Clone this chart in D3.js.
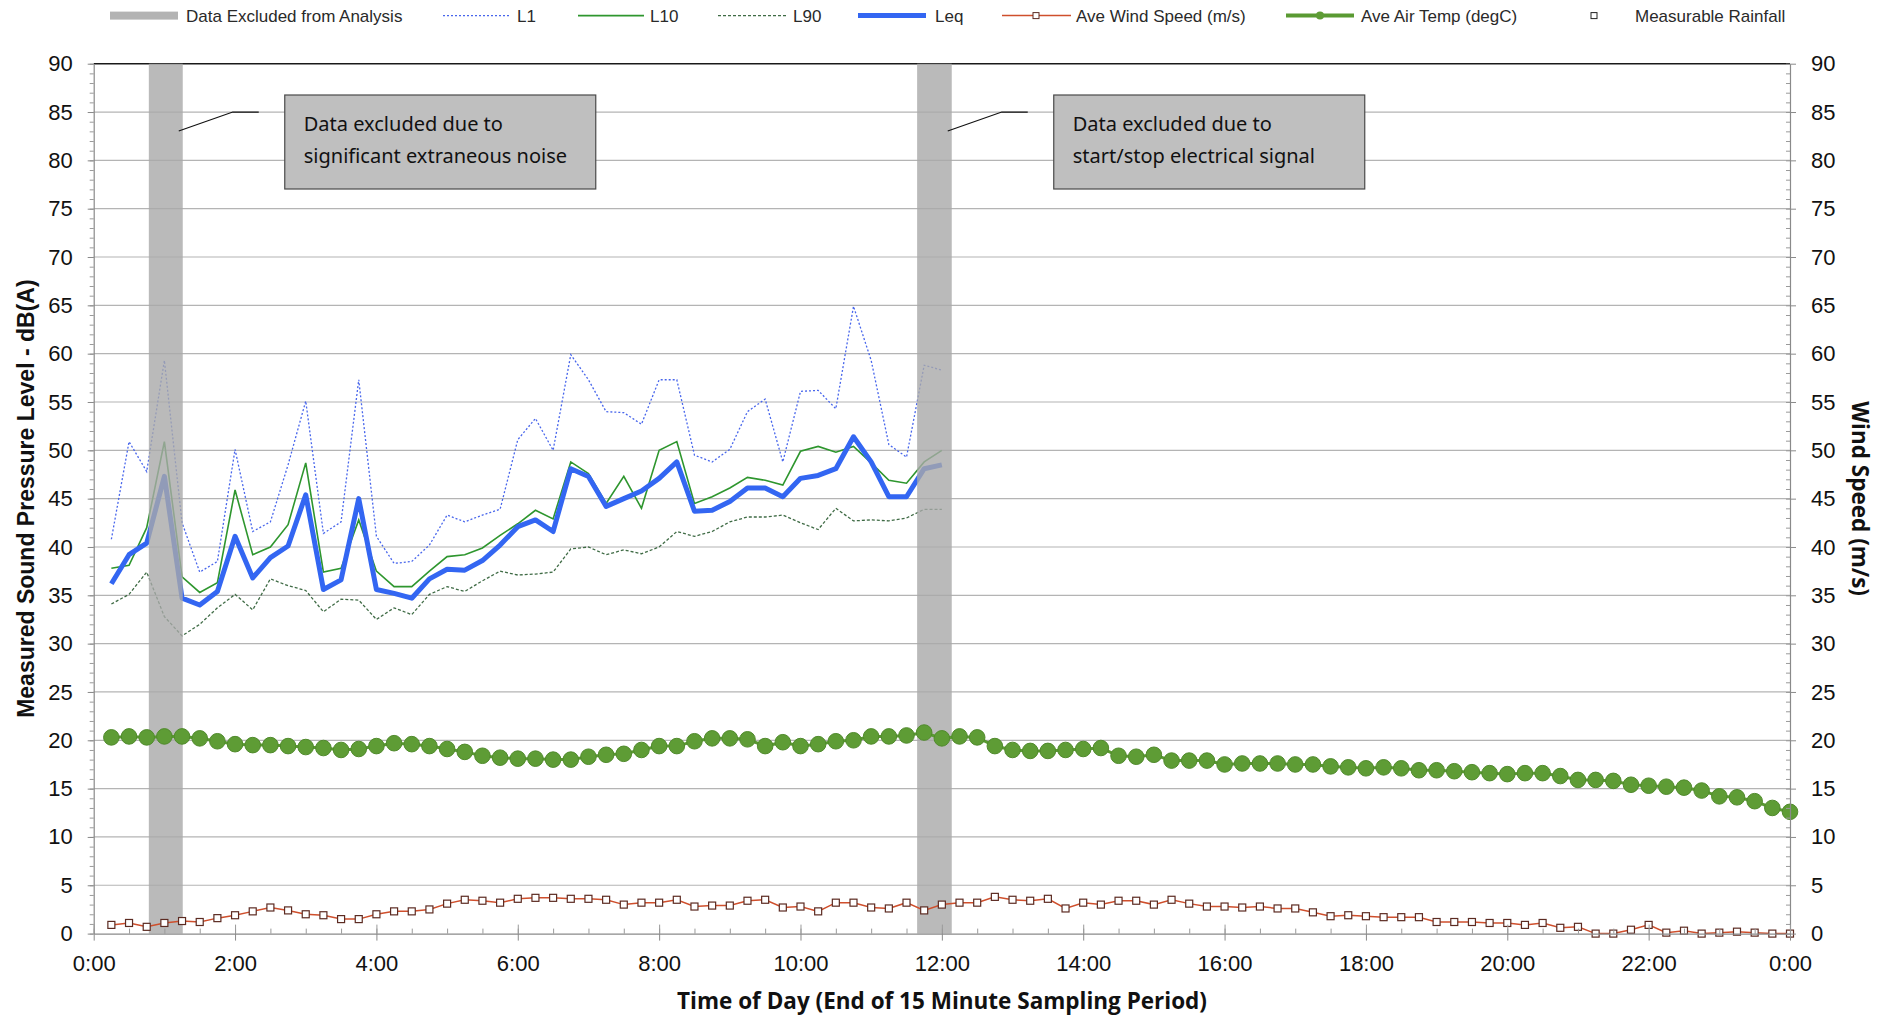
<!DOCTYPE html>
<html lang="en">
<head>
<meta charset="UTF-8">
<title>Noise Monitoring - 24 hour</title>
<script src="https://d3js.org/d3.v7.min.js"></script>
<style>
    body { margin: 0; background: #fff; }
    svg { display: block; }
</style>
</head>
<body>
<div id="chart"></div>
<script>
    // values at the end of each 15 minute period, first one is 0:15
    var periodMinutes = 15;

    // noise logger, 0:15 .. 12:00
    var L1 = [40.8, 50.9, 47.8, 59.3, 42.5, 37.4, 38.5, 50.1, 41.6, 42.6, 48.5, 55.1,
              41.4, 42.6, 57.3, 41.1, 38.3, 38.5, 40.2, 43.3, 42.6, 43.3, 43.9, 51.1,
              53.3, 50.0, 59.9, 57.3, 54.0, 53.9, 52.7, 57.3, 57.3, 49.5, 48.8, 50.1,
              54.0, 55.3, 48.8, 56.1, 56.2, 54.3, 64.9, 59.3, 50.6, 49.3, 58.8, 58.3];
    var L10 = [37.8, 38.1, 42.0, 50.9, 36.9, 35.3, 36.3, 45.9, 39.2, 40.0, 42.3, 48.7,
               37.4, 37.8, 42.8, 37.5, 35.9, 35.9, 37.5, 39.0, 39.2, 39.9, 41.2, 42.4,
               43.8, 42.9, 48.8, 47.6, 44.5, 47.3, 44.0, 50.0, 50.9, 44.5, 45.2, 46.1,
               47.2, 46.9, 46.4, 49.9, 50.4, 49.8, 50.4, 48.7, 46.9, 46.6, 48.8, 50.0];
    var L90 = [34.1, 35.1, 37.4, 32.8, 30.8, 32.0, 33.7, 35.1, 33.5, 36.7, 36.0, 35.5,
               33.3, 34.6, 34.5, 32.5, 33.7, 33.0, 35.1, 35.9, 35.4, 36.5, 37.5, 37.1,
               37.2, 37.4, 39.8, 40.0, 39.2, 39.7, 39.3, 40.0, 41.6, 41.1, 41.6, 42.6,
               43.1, 43.1, 43.3, 42.5, 41.8, 44.0, 42.7, 42.8, 42.7, 43.0, 43.9, 43.9];
    var Leq = [36.2, 39.2, 40.4, 47.3, 34.7, 34.0, 35.4, 41.1, 36.8, 38.9, 40.1, 45.4,
               35.6, 36.6, 45.0, 35.6, 35.2, 34.7, 36.7, 37.7, 37.6, 38.6, 40.2, 42.1,
               42.8, 41.6, 48.1, 47.3, 44.2, 45.0, 45.8, 47.1, 48.8, 43.7, 43.8, 44.7,
               46.1, 46.1, 45.2, 47.1, 47.4, 48.1, 51.4, 48.8, 45.2, 45.2, 48.1, 48.5];

    // weather station, 0:15 .. 24:00
    var windSpeed = [0.9, 1.1, 0.7, 1.1, 1.3, 1.2, 1.6, 1.9, 2.3, 2.7, 2.4, 2.0,
                     1.9, 1.5, 1.5, 2.0, 2.3, 2.3, 2.5, 3.1, 3.5, 3.4, 3.2, 3.6,
                     3.7, 3.7, 3.6, 3.6, 3.5, 3.0, 3.2, 3.2, 3.5, 2.8, 2.9, 2.9,
                     3.4, 3.5, 2.7, 2.8, 2.3, 3.2, 3.2, 2.7, 2.6, 3.2, 2.4, 3.0,
                     3.2, 3.2, 3.8, 3.5, 3.4, 3.6, 2.6, 3.2, 3.0, 3.4, 3.4, 3.0,
                     3.5, 3.1, 2.8, 2.8, 2.7, 2.8, 2.6, 2.6, 2.2, 1.8, 1.9, 1.8,
                     1.7, 1.7, 1.7, 1.2, 1.2, 1.2, 1.1, 1.1, 0.9, 1.1, 0.6, 0.7,
                     0.0, 0.0, 0.4, 0.9, 0.1, 0.3, 0.0, 0.1, 0.2, 0.1, 0.0, 0.0];
    var airTemp = [20.3, 20.4, 20.3, 20.4, 20.4, 20.2, 19.9, 19.6, 19.5, 19.5, 19.4, 19.3,
                   19.2, 19.0, 19.1, 19.4, 19.7, 19.6, 19.4, 19.1, 18.8, 18.4, 18.2, 18.1,
                   18.1, 18.0, 18.0, 18.3, 18.5, 18.6, 19.0, 19.4, 19.4, 19.9, 20.2, 20.2,
                   20.1, 19.4, 19.8, 19.4, 19.6, 19.9, 20.0, 20.4, 20.4, 20.5, 20.8, 20.2,
                   20.4, 20.3, 19.4, 19.0, 18.9, 18.9, 19.0, 19.1, 19.2, 18.4, 18.3, 18.5,
                   17.9, 17.9, 17.9, 17.5, 17.6, 17.6, 17.6, 17.5, 17.5, 17.3, 17.2, 17.1,
                   17.2, 17.1, 16.9, 16.9, 16.8, 16.7, 16.6, 16.5, 16.6, 16.6, 16.3, 15.9,
                   15.9, 15.8, 15.4, 15.3, 15.2, 15.1, 14.8, 14.2, 14.1, 13.7, 13.0, 12.6];
    var rainfall = [];   // no measurable rainfall

    // excluded periods (hours)
    var excludedFrom = [0.78, 11.65];
    var excludedTo = [1.26, 12.14];
    var excludedNotes = [["Data excluded due to", "significant extraneous noise"],
                         ["Data excluded due to", "start/stop electrical signal"]];

    var xTicks = [0, 2, 4, 6, 8, 10, 12, 14, 16, 18, 20, 22, 24];
    var yTicks = [0, 5, 10, 15, 20, 25, 30, 35, 40, 45, 50, 55, 60, 65, 70, 75, 80, 85, 90];
    var seriesNames = ["Data Excluded from Analysis", "L1", "L10", "L90", "Leq",
                       "Ave Wind Speed (m/s)", "Ave Air Temp (degC)", "Measurable Rainfall"];

    var width = 1884, height = 1016;
    var plotLeft = 93.7, plotRight = 1790, plotTop = 63.7, plotBottom = 933.6;
    var tickFont = '"Liberation Sans", Arial, sans-serif';
    var legendFont = '"Liberation Sans Narrow", "Arial Narrow", "Liberation Sans", sans-serif';

    var svg = d3.select("#chart").append("svg")
        .attr("width", width).attr("height", height);

    var x = d3.scaleLinear().domain([0, 24]).range([plotLeft, plotRight]);
    var y = d3.scaleLinear().domain([0, 90]).range([plotBottom, plotTop]);

    function hourOf(i) { return (i + 1) * periodMinutes / 60; }

    // grid
    svg.append("g").selectAll("line")
        .data(yTicks.filter(function (v) { return v > 0 && v < 90; }))
        .enter().append("line")
        .attr("x1", plotLeft).attr("x2", plotRight)
        .attr("y1", function (d) { return y(d); }).attr("y2", function (d) { return y(d); })
        .attr("stroke", "#b4b4b4").attr("stroke-width", 1.2);
    svg.append("line").attr("x1", plotLeft).attr("x2", plotRight)
        .attr("y1", y(90)).attr("y2", y(90)).attr("stroke", "#1a1a1a").attr("stroke-width", 1.5);

    // noise lines
    function seriesLine(data) {
        return d3.line()
            .x(function (d, i) { return x(hourOf(i)); })
            .y(function (d) { return y(d); })(data);
    }
    var plot = svg.append("g");
    plot.append("path").attr("d", seriesLine(L90)).attr("fill", "none")
        .attr("stroke", "#3f6b45").attr("stroke-width", 1.3).attr("stroke-dasharray", "3,2");
    plot.append("path").attr("d", seriesLine(L1)).attr("fill", "none")
        .attr("stroke", "#4866ec").attr("stroke-width", 1.3).attr("stroke-dasharray", "2,2");
    plot.append("path").attr("d", seriesLine(L10)).attr("fill", "none")
        .attr("stroke", "#2e962e").attr("stroke-width", 1.6);
    plot.append("path").attr("d", seriesLine(Leq)).attr("fill", "none")
        .attr("stroke", "#3366f2").attr("stroke-width", 5).attr("stroke-linejoin", "round");

    // excluded bands
    svg.append("g").selectAll("rect")
        .data(excludedFrom)
        .enter().append("rect")
        .attr("x", function (d) { return x(d); })
        .attr("width", function (d, i) { return x(excludedTo[i]) - x(d); })
        .attr("y", y(90)).attr("height", y(0) - y(90))
        .attr("fill", "#a9a9a9").attr("opacity", 0.8);

    // air temperature
    svg.append("path").attr("d", seriesLine(airTemp)).attr("fill", "none")
        .attr("stroke", "#5a9a32").attr("stroke-width", 3);
    svg.append("g").selectAll("circle")
        .data(airTemp)
        .enter().append("circle")
        .attr("cx", function (d, i) { return x(hourOf(i)); })
        .attr("cy", function (d) { return y(d); })
        .attr("r", 7.8)
        .attr("fill", "#5e9c35").attr("stroke", "#508a2c").attr("stroke-width", 1);

    // wind speed
    svg.append("path").attr("d", seriesLine(windSpeed)).attr("fill", "none")
        .attr("stroke", "#cf4f2c").attr("stroke-width", 1.5);
    svg.append("g").selectAll("rect")
        .data(windSpeed)
        .enter().append("rect")
        .attr("x", function (d, i) { return x(hourOf(i)) - 3.5; })
        .attr("y", function (d) { return y(d) - 3.5; })
        .attr("width", 7).attr("height", 7)
        .attr("fill", "#fff").attr("stroke", "#5c2b22").attr("stroke-width", 1.2);

    // rainfall markers (none in this period)
    svg.append("g").selectAll("rect")
        .data(rainfall)
        .enter().append("rect")
        .attr("x", function (d) { return x(d) - 3.5; })
        .attr("y", y(0) - 3.5).attr("width", 7).attr("height", 7)
        .attr("fill", "#fff").attr("stroke", "#222");

    // axes
    function styleAxis(g) {
        g.select(".domain").attr("stroke", "#8a8a8a").attr("stroke-width", 1.2);
        g.selectAll(".tick line").attr("stroke", "#8a8a8a");
        g.selectAll("text").attr("font-family", tickFont).attr("font-size", 22).attr("fill", "#111");
    }
    function minorTicks(g) {
        g.select(".domain").remove();
        g.selectAll("line").attr("stroke", "#9a9a9a");
    }
    var minorY = d3.range(0, 91, 1);
    svg.append("g").attr("transform", "translate(" + plotLeft + ",0)")
        .call(d3.axisLeft(y).tickValues(minorY).tickSize(4).tickFormat(""))
        .call(minorTicks);
    svg.append("g").attr("transform", "translate(" + plotRight + ",0)")
        .call(d3.axisLeft(y).tickValues(minorY).tickSize(4).tickFormat(""))
        .call(minorTicks);
    svg.append("g").attr("transform", "translate(" + plotLeft + ",0)")
        .call(d3.axisLeft(y).tickValues(yTicks).tickSize(6).tickPadding(15).tickSizeOuter(0))
        .call(styleAxis);
    svg.append("g").attr("transform", "translate(" + plotRight + ",0)")
        .call(d3.axisRight(y).tickValues(yTicks).tickSize(6).tickPadding(15).tickSizeOuter(0))
        .call(styleAxis);

    svg.append("g").attr("transform", "translate(0," + plotBottom + ")")
        .call(d3.axisTop(x).tickValues(d3.range(0, 24.01, 0.5)).tickSize(5).tickFormat(""))
        .call(minorTicks);
    svg.append("g").attr("transform", "translate(0," + plotBottom + ")")
        .call(d3.axisTop(x).tickValues(xTicks).tickSize(9).tickFormat(""))
        .call(minorTicks);
    svg.append("g").attr("transform", "translate(0," + plotBottom + ")")
        .call(d3.axisBottom(x).tickValues(xTicks).tickSize(7).tickPadding(15).tickSizeOuter(0)
            .tickFormat(function (h) { return (h % 24) + ":00"; }))
        .call(styleAxis);

    // axis titles
    var midY = (plotTop + plotBottom) / 2;
    svg.append("text")
        .attr("transform", "translate(26," + midY + ") rotate(-90)")
        .attr("text-anchor", "middle").attr("dominant-baseline", "central")
        .attr("font-family", tickFont).attr("font-weight", "bold").attr("font-size", 23)
        .attr("fill", "#111")
        .text("Measured Sound Pressure Level - dB(A)");
    svg.append("text")
        .attr("transform", "translate(1860," + midY + ") rotate(90)")
        .attr("text-anchor", "middle").attr("dominant-baseline", "central")
        .attr("font-family", '"Open Sans", sans-serif').attr("font-weight", "bold").attr("font-size", 22.5)
        .attr("fill", "#111")
        .text("Wind Speed (m/s)");
    svg.append("text")
        .attr("x", 942).attr("y", 1009)
        .attr("text-anchor", "middle")
        .attr("font-family", '"Open Sans", sans-serif').attr("font-weight", "bold").attr("font-size", 22.5)
        .attr("fill", "#111")
        .text("Time of Day (End of 15 Minute Sampling Period)");

    // annotation boxes for the excluded periods
    var boxW = 311, boxH = 94, boxTop = 95;
    excludedTo.forEach(function (end, i) {
        var bx = x(end) + 102;
        var g = svg.append("g");
        g.append("polyline")
            .attr("points", [[x(end) - 4, 131], [x(end) + 50, y(85)], [bx - 26, y(85)]].join(" "))
            .attr("fill", "none").attr("stroke", "#111").attr("stroke-width", 1.2);
        g.append("rect").attr("x", bx).attr("y", boxTop).attr("width", boxW).attr("height", boxH)
            .attr("fill", "#bfbfbf").attr("stroke", "#4a4a4a").attr("stroke-width", 1.2);
        excludedNotes[i].forEach(function (line, k) {
            g.append("text").attr("x", bx + 19).attr("y", 131 + k * 32)
                .attr("font-family", '"Noto Sans", "Open Sans", sans-serif').attr("font-size", 20)
                .attr("fill", "#111").text(line);
        });
    });

    // legend
    var ly = 15.6;
    var lg = svg.append("g");
    function legendText(xp, label) {
        lg.append("text").attr("x", xp).attr("y", ly + 6.3)
            .attr("font-family", legendFont).attr("font-size", 17).attr("fill", "#2a2a2a").text(label);
    }
    lg.append("rect").attr("x", 110).attr("y", ly - 4).attr("width", 68).attr("height", 8).attr("fill", "#b3b3b3");
    legendText(186, seriesNames[0]);
    lg.append("line").attr("x1", 443).attr("x2", 509).attr("y1", ly).attr("y2", ly)
        .attr("stroke", "#4866ec").attr("stroke-width", 1.3).attr("stroke-dasharray", "2,2");
    legendText(517, seriesNames[1]);
    lg.append("line").attr("x1", 578).attr("x2", 644).attr("y1", ly).attr("y2", ly)
        .attr("stroke", "#2e962e").attr("stroke-width", 1.6);
    legendText(650, seriesNames[2]);
    lg.append("line").attr("x1", 718).attr("x2", 786).attr("y1", ly).attr("y2", ly)
        .attr("stroke", "#3f6b45").attr("stroke-width", 1.3).attr("stroke-dasharray", "3,2");
    legendText(793, seriesNames[3]);
    lg.append("line").attr("x1", 858).attr("x2", 926).attr("y1", ly).attr("y2", ly)
        .attr("stroke", "#3366f2").attr("stroke-width", 5);
    legendText(935, seriesNames[4]);
    lg.append("line").attr("x1", 1002).attr("x2", 1071).attr("y1", ly).attr("y2", ly)
        .attr("stroke", "#cf4f2c").attr("stroke-width", 1.5);
    lg.append("rect").attr("x", 1033).attr("y", ly - 3).attr("width", 6).attr("height", 6)
        .attr("fill", "#fff").attr("stroke", "#5c2b22");
    legendText(1076, seriesNames[5]);
    lg.append("line").attr("x1", 1286).attr("x2", 1354).attr("y1", ly).attr("y2", ly)
        .attr("stroke", "#5a9a32").attr("stroke-width", 4);
    lg.append("circle").attr("cx", 1320).attr("cy", ly).attr("r", 4).attr("fill", "#5e9c35");
    legendText(1361, seriesNames[6]);
    lg.append("rect").attr("x", 1591).attr("y", ly - 3).attr("width", 6).attr("height", 6)
        .attr("fill", "#fff").attr("stroke", "#222");
    legendText(1635, seriesNames[7]);
</script>
</body>
</html>
